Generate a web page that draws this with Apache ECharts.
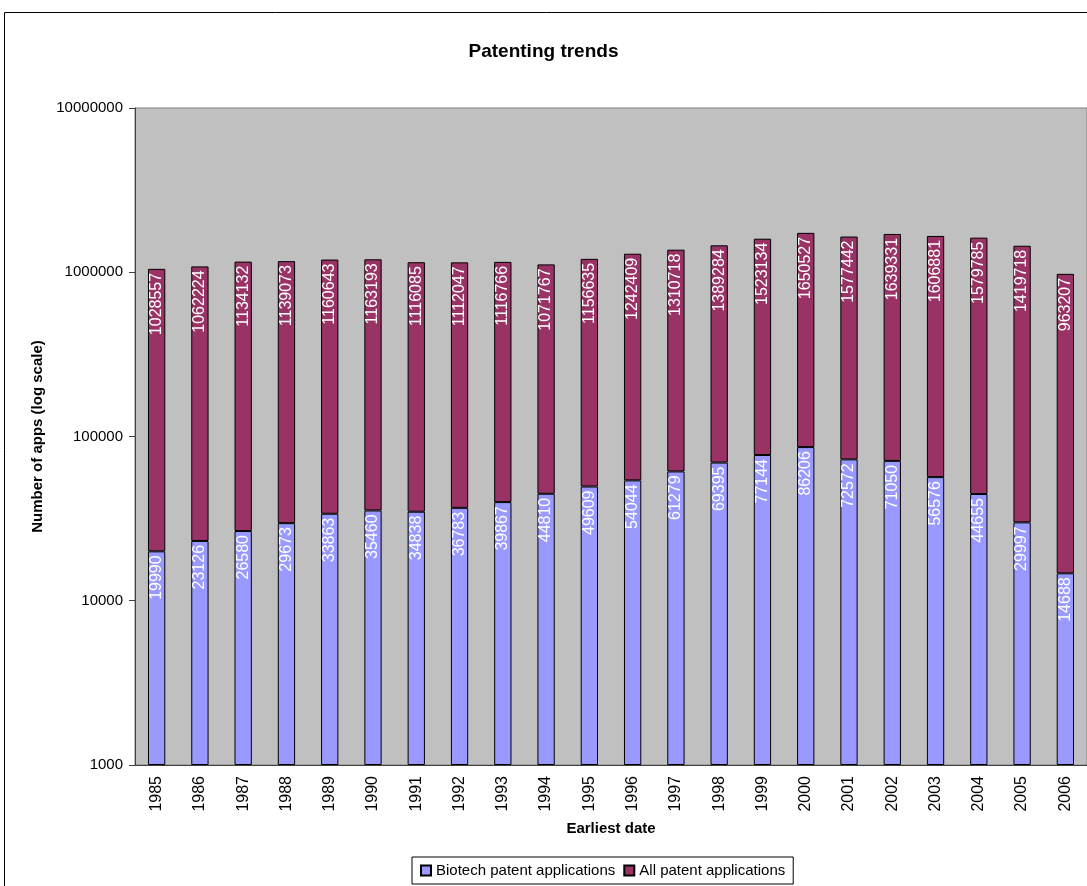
<!DOCTYPE html>
<html>
<head>
<meta charset="utf-8">
<script src="https://cdn.jsdelivr.net/npm/echarts@6/dist/echarts.min.js"></script>
<style>
html, body { margin: 0; padding: 0; background: #fff; }
#chart { width: 1087px; height: 886px; }
</style>
</head>
<body>
<div id="chart"></div>
<script>
var years = ['1985','1986','1987','1988','1989','1990','1991','1992','1993','1994','1995',
	'1996','1997','1998','1999','2000','2001','2002','2003','2004','2005','2006'];
var biotech = [19990,23126,26580,29673,33863,35460,34838,36783,39867,44810,49609,
	54044,61279,69395,77144,86206,72572,71050,56576,44655,29997,14688];
var allApps = [1028557,1062224,1134132,1139073,1160643,1163193,1116085,1112047,1116766,1071767,1156635,
	1242409,1310718,1389284,1523134,1650527,1577442,1639331,1606881,1579785,1419718,963207];

var font = 'Arial, "Liberation Sans", sans-serif';

var barLabel = {
	show: true,
	position: 'insideTop',
	rotate: 90,
	align: 'right',
	verticalAlign: 'middle',
	distance: 4,
	color: '#fff',
	fontFamily: font,
	fontSize: 16
};

var chart = echarts.init(document.getElementById('chart'));
chart.setOption({
	backgroundColor: '#fff',
	animation: false,
	textStyle: { fontFamily: font },
	title: {
		text: 'Patenting trends',
		left: 'center',
		top: 37,
		textStyle: { fontSize: 19, fontWeight: 'bold', color: '#000', fontFamily: font }
	},
	graphic: [{
		type: 'rect',
		shape: { x: 4.5, y: 12.5, width: 1100, height: 900 },
		style: { fill: 'none', stroke: '#000', lineWidth: 1 },
		silent: true,
		z: 0
	}],
	legend: {
		left: 412,
		top: 857,
		itemWidth: 10,
		itemHeight: 10,
		itemGap: 8,
		icon: 'rect',
		borderColor: '#000',
		borderWidth: 1,
		padding: [6, 8, 6, 8],
		textStyle: { fontSize: 15, color: '#000', fontFamily: font },
		data: ['Biotech patent applications', 'All patent applications']
	},
	grid: {
		left: 135,
		top: 108,
		right: 0,
		bottom: 121,
		show: true,
		backgroundColor: '#C0C0C0',
		borderColor: '#808080',
		borderWidth: 1,
		containLabel: false
	},
	xAxis: {
		type: 'category',
		data: years,
		name: 'Earliest date',
		nameLocation: 'middle',
		nameGap: 56,
		nameTextStyle: { fontSize: 15, fontWeight: 'bold', color: '#000' },
		axisLine: { lineStyle: { color: '#404040' } },
		axisTick: { alignWithLabel: false, length: 6, lineStyle: { color: '#404040' } },
		axisLabel: { rotate: 90, fontSize: 16, color: '#000', margin: 11 }
	},
	yAxis: {
		type: 'log',
		logBase: 10,
		min: 1000,
		max: 10000000,
		startValue: 1000,
		name: 'Number of apps (log scale)',
		nameLocation: 'middle',
		nameGap: 86,
		nameTextStyle: { fontSize: 15, fontWeight: 'bold', color: '#000' },
		axisLine: { show: true, lineStyle: { color: '#404040' } },
		axisTick: { show: true, length: 6, lineStyle: { color: '#404040' } },
		axisLabel: {
			fontSize: 15,
			color: '#000',
			margin: 12,
			formatter: function (v) { return String(Math.round(v)); }
		},
		splitLine: { show: false },
		minorTick: { show: false }
	},
	series: [
		{
			name: 'Biotech patent applications',
			type: 'bar',
			stack: 'apps',
			barWidth: '40%',
			itemStyle: { color: '#9999FF', borderColor: '#000', borderWidth: 1 },
			label: barLabel,
			data: biotech
		},
		{
			name: 'All patent applications',
			type: 'bar',
			stack: 'apps',
			barWidth: '40%',
			itemStyle: { color: '#993366', borderColor: '#000', borderWidth: 1 },
			label: barLabel,
			data: allApps
		}
	]
});
</script>
</body>
</html>
